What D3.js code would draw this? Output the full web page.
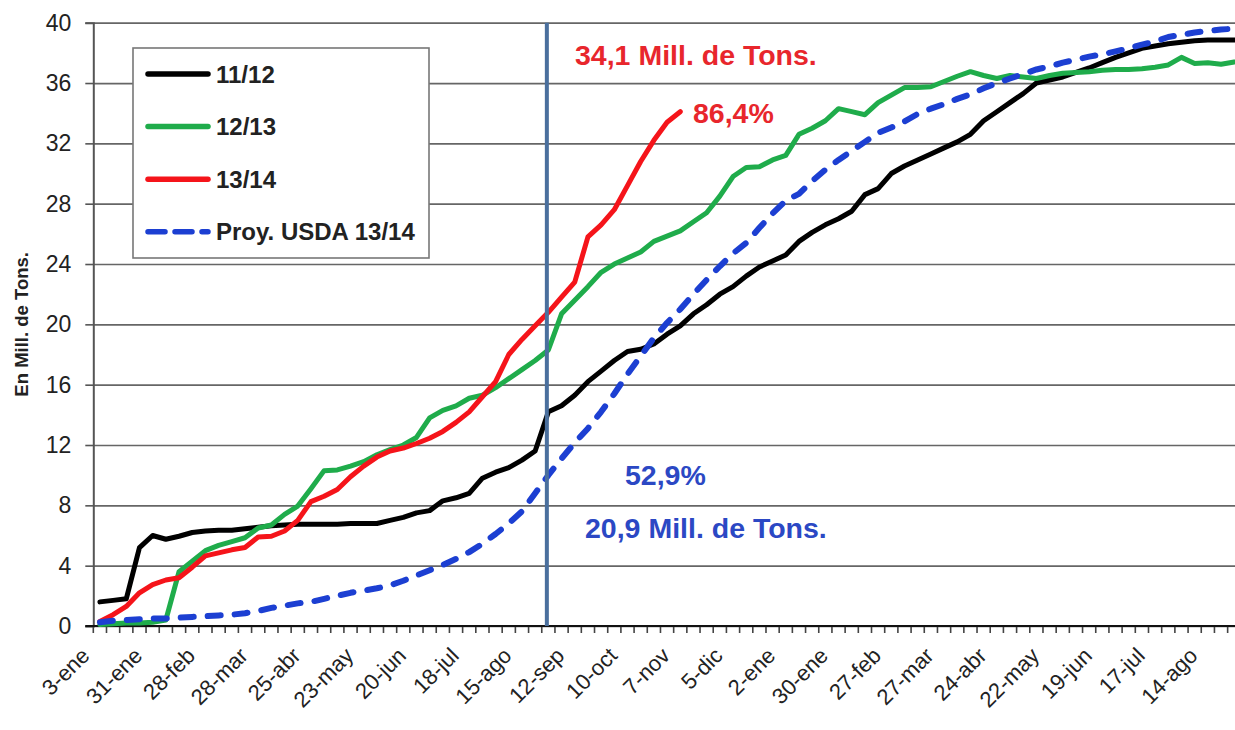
<!DOCTYPE html>
<html>
<head>
<meta charset="utf-8">
<script src="https://cdn.jsdelivr.net/npm/d3@7"></script>
<style>
  html, body { margin: 0; padding: 0; background: #fff; }
  svg { display: block; font-family: "Liberation Sans", Arial, sans-serif; }
</style>
</head>
<body>
<svg id="chart" width="1235" height="730"></svg>
<script>
// weekly categories (3-ene .. 28-ago of the following year)
const weeks = [
  "3-ene","10-ene","17-ene","24-ene","31-ene","7-feb","14-feb","21-feb","28-feb","7-mar",
  "14-mar","21-mar","28-mar","4-abr","11-abr","18-abr","25-abr","2-may","9-may","16-may",
  "23-may","30-may","6-jun","13-jun","20-jun","27-jun","4-jul","11-jul","18-jul","25-jul",
  "1-ago","8-ago","15-ago","22-ago","29-ago","5-sep","12-sep","19-sep","26-sep","3-oct",
  "10-oct","17-oct","24-oct","31-oct","7-nov","14-nov","21-nov","28-nov","5-dic","12-dic",
  "19-dic","26-dic","2-ene","9-ene","16-ene","23-ene","30-ene","6-feb","13-feb","20-feb",
  "27-feb","6-mar","13-mar","20-mar","27-mar","3-abr","10-abr","17-abr","24-abr","1-may",
  "8-may","15-may","22-may","29-may","5-jun","12-jun","19-jun","26-jun","3-jul","10-jul",
  "17-jul","24-jul","31-jul","7-ago","14-ago","21-ago","28-ago"
];
const tickLabels = ["3-ene","31-ene","28-feb","28-mar","25-abr","23-may","20-jun","18-jul",
  "15-ago","12-sep","10-oct","7-nov","5-dic","2-ene","30-ene","27-feb","27-mar","24-abr",
  "22-may","19-jun","17-jul","14-ago"];
const yTicks = [0, 4, 8, 12, 16, 20, 24, 28, 32, 36, 40];

// millions of tons, accumulated
const s1112 = [
  1.6, 1.7, 1.8, 5.2, 6.0, 5.75, 5.95, 6.2, 6.3, 6.35,
  6.35, 6.45, 6.55, 6.65, 6.7, 6.75, 6.75, 6.75, 6.75, 6.8,
  6.8, 6.8, 7.0, 7.2, 7.5, 7.65, 8.3, 8.5, 8.8, 9.8,
  10.2, 10.5, 11.0, 11.6, 14.2, 14.6, 15.3, 16.2, 16.9, 17.6,
  18.2, 18.35, 18.7, 19.35, 19.9, 20.7, 21.3, 22.0, 22.5, 23.2,
  23.8, 24.2, 24.6, 25.5, 26.1, 26.6, 27.0, 27.5, 28.6, 29.0,
  30.0, 30.5, 30.9, 31.3, 31.7, 32.1, 32.6, 33.5, 34.1, 34.7,
  35.3, 36.0, 36.2, 36.4, 36.7, 37.0, 37.35, 37.7, 38.0, 38.3,
  38.45, 38.6, 38.7, 38.8, 38.85, 38.85, 38.85
];
const s1213 = [
  0.1, 0.15, 0.2, 0.2, 0.25, 0.4, 3.6, 4.3, 5.0, 5.35,
  5.6, 5.85, 6.5, 6.7, 7.4, 7.95, 9.1, 10.3, 10.35, 10.6,
  10.9, 11.35, 11.7, 12.0, 12.5, 13.8, 14.3, 14.6, 15.1, 15.3,
  15.8, 16.4, 17.0, 17.6, 18.3, 20.7, 21.6, 22.5, 23.45, 24.0,
  24.4, 24.8, 25.5, 25.85, 26.2, 26.8, 27.4, 28.5, 29.8, 30.4,
  30.45, 30.9, 31.2, 32.6, 33.0, 33.5, 34.3, 34.1, 33.9, 34.7,
  35.2, 35.7, 35.7, 35.75, 36.1, 36.45, 36.75, 36.5, 36.3, 36.5,
  36.4, 36.3, 36.5, 36.65, 36.7, 36.75, 36.85, 36.9, 36.9, 36.95,
  37.05, 37.2, 37.7, 37.3, 37.35, 37.25, 37.4
];
const s1314 = [
  0.3, 0.75, 1.3, 2.2, 2.75, 3.05, 3.2, 3.9, 4.65, 4.85,
  5.05, 5.2, 5.9, 5.95, 6.3, 7.0, 8.25, 8.6, 9.05, 9.9,
  10.6, 11.2, 11.6, 11.8, 12.1, 12.45, 12.9, 13.5, 14.2, 15.2,
  16.2, 18.0, 19.0, 19.9, 20.8, 21.8, 22.8, 25.8, 26.6, 27.6,
  29.2, 30.8, 32.2, 33.4, 34.1
];
const usda1314 = [
  0.25, 0.35, 0.4, 0.45, 0.5, 0.5, 0.55, 0.6, 0.65, 0.7,
  0.75, 0.85, 1.0, 1.2, 1.35, 1.5, 1.6, 1.8, 2.0, 2.2,
  2.35, 2.5, 2.7, 3.0, 3.35, 3.7, 4.05, 4.45, 4.9, 5.45,
  6.1, 6.8, 7.6, 8.8, 10.0, 11.1, 12.15, 13.1, 14.2, 15.4,
  16.7, 17.9, 19.1, 20.1, 21.0, 22.0, 22.95, 23.85, 24.7, 25.4,
  26.4, 27.35, 28.2, 28.65, 29.5, 30.25, 30.9, 31.5, 32.1, 32.7,
  33.05, 33.45, 33.95, 34.3, 34.6, 34.95, 35.25, 35.65, 36.0, 36.3,
  36.6, 36.9, 37.1, 37.35, 37.55, 37.75, 37.9, 38.1, 38.3, 38.55,
  38.75, 39.05, 39.2, 39.35, 39.45, 39.55, 39.6
];
const seriesNames = ["11/12", "12/13", "13/14", "Proy. USDA 13/14"];
const markerWeek = "29-ago";
const redNotes = ["34,1 Mill. de Tons.", "86,4%"];
const blueNotes = ["52,9%", "20,9 Mill. de Tons."];
const yTitle = "En Mill. de Tons.";

// ---- layout
const svg = d3.select('#chart');
const plotLeft = 93.3, plotTop = 22.7, plotBottom = 626, step = 13.19;
const x = d3.scaleBand().domain(weeks).range([plotLeft, plotLeft + step * weeks.length]).padding(0);
const y = d3.scaleLinear().domain([0, 40]).range([plotBottom, plotTop]);
const cx = w => x(w) + x.bandwidth() / 2;

const series = [
  { name: seriesNames[0], values: s1112, color: '#000000', width: 5, dash: null },
  { name: seriesNames[1], values: s1213, color: '#1fac4b', width: 5, dash: null },
  { name: seriesNames[2], values: s1314, color: '#f5141a', width: 5, dash: null },
  { name: seriesNames[3], values: usda1314, color: '#1c3fd2', width: 6, dash: '13,14' },
];

// gridlines
svg.append('g')
  .attr('transform', `translate(${plotLeft},0)`)
  .call(d3.axisLeft(y).tickValues(yTicks).tickSize(-(1235 - plotLeft)).tickFormat(''))
  .call(g => g.select('.domain').remove())
  .call(g => g.selectAll('line').attr('stroke', '#666').attr('stroke-width', 1.7));

// y axis
svg.append('g')
  .attr('transform', `translate(${plotLeft},0)`)
  .call(d3.axisLeft(y).tickValues(yTicks).tickSize(8).tickPadding(14))
  .call(g => g.select('.domain').attr('stroke', '#555').attr('stroke-width', 2))
  .call(g => g.selectAll('line').attr('stroke', '#555').attr('stroke-width', 1.6))
  .call(g => g.selectAll('text').attr('font-size', 23).attr('fill', '#222')
    .attr('font-family', '"Liberation Sans", Arial, sans-serif'));

svg.append('text')
  .attr('transform', `translate(28,${(plotTop + plotBottom) / 2}) rotate(-90)`)
  .attr('text-anchor', 'middle')
  .attr('font-size', 18.5).attr('font-weight', 'bold').attr('fill', '#222')
  .text(yTitle);

// x axis: tick marks between categories, labels on every 4th week
const xg = svg.append('g').attr('transform', `translate(0,${plotBottom})`);
xg.call(d3.axisBottom(x).tickValues(tickLabels).tickSize(0).tickPadding(0))
  .call(g => g.select('.domain').remove())
  .call(g => g.selectAll('text')
    .attr('y', 0).attr('dy', 0)
    .attr('transform', 'translate(-9,31) rotate(-45)')
    .attr('text-anchor', 'end')
    .attr('font-size', 22).attr('fill', '#222')
    .attr('font-family', '"Liberation Sans", Arial, sans-serif'));
const lastEdge = x(weeks[weeks.length - 1]) + x.bandwidth();
xg.selectAll('line.wk')
  .data(weeks.concat(['end']))
  .enter().append('line')
  .attr('class', 'wk')
  .attr('x1', (w, i) => i < weeks.length ? x(w) : lastEdge)
  .attr('x2', (w, i) => i < weeks.length ? x(w) : lastEdge)
  .attr('y1', 0).attr('y2', 7)
  .attr('stroke', '#444').attr('stroke-width', 1.6);
xg.append('line')
  .attr('x1', plotLeft - 8).attr('x2', 1235).attr('y1', 0).attr('y2', 0)
  .attr('stroke', '#111').attr('stroke-width', 2);

// series
const line = d3.line().x((d, i) => cx(weeks[i])).y(d => y(d));
svg.append('g').selectAll('path.series')
  .data(series)
  .enter().append('path')
  .attr('class', 'series')
  .attr('d', d => line(d.values))
  .attr('fill', 'none')
  .attr('stroke', d => d.color)
  .attr('stroke-width', d => d.width)
  .attr('stroke-linejoin', 'round')
  .attr('stroke-linecap', 'round')
  .attr('stroke-dasharray', d => d.dash);

// vertical marker
svg.append('line')
  .attr('x1', cx(markerWeek) - 1.5).attr('x2', cx(markerWeek) - 1.5)
  .attr('y1', plotTop).attr('y2', plotBottom)
  .attr('stroke', '#4a6f9d').attr('stroke-width', 4);

// annotations
const note = (txt, tx, ty, color) => svg.append('text')
  .attr('x', tx).attr('y', ty)
  .attr('font-size', 28.5).attr('font-weight', 'bold').attr('fill', color)
  .text(txt);
note(redNotes[0], 575, 65, '#e8262c');
note(redNotes[1], 693, 123, '#e8262c');
note(blueNotes[0], 625, 485, '#2b48c4');
note(blueNotes[1], 585, 538, '#2b48c4');

// legend
const lg = svg.append('g');
lg.append('rect')
  .attr('x', 133).attr('y', 48).attr('width', 296).attr('height', 210)
  .attr('fill', '#fff').attr('stroke', '#777').attr('stroke-width', 1.6);
const item = lg.selectAll('g.item').data(series).enter().append('g')
  .attr('class', 'item')
  .attr('transform', (d, i) => `translate(0,${74 + i * 52.6})`);
item.append('line')
  .attr('x1', 148).attr('x2', 208).attr('y1', 0).attr('y2', 0)
  .attr('stroke', d => d.color).attr('stroke-width', 5.5)
  .attr('stroke-linecap', 'round')
  .attr('stroke-dasharray', d => d.dash ? '17,10' : null);
item.append('text')
  .attr('x', 216).attr('y', 0).attr('dy', '0.36em')
  .attr('font-size', 24).attr('font-weight', 'bold').attr('fill', '#222')
  .text(d => d.name);
</script>
</body>
</html>
